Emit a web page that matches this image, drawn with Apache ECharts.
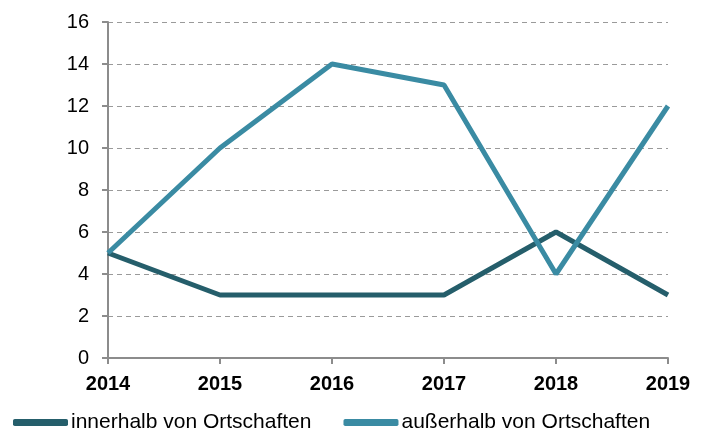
<!DOCTYPE html>
<html>
<head>
<meta charset="utf-8">
<script src="https://cdn.jsdelivr.net/npm/echarts@6/dist/echarts.min.js"></script>
<style>
  html, body { margin: 0; padding: 0; background: #fff; }
  #chart { width: 708px; height: 428px; }
</style>
</head>
<body>
<div id="chart"></div>
<script>
var years = ['2014', '2015', '2016', '2017', '2018', '2019'];
var innerhalb = [5, 3, 3, 3, 6, 3];
var ausserhalb = [5, 10, 14, 13, 4, 12];
var yTicks = { min: 0, max: 16, interval: 2 };

var myChart = echarts.init(document.getElementById('chart'));
var font = 'Liberation Sans, Arial, sans-serif';

myChart.setOption({
    animation: false,
    grid: { left: 108, right: 40, top: 22, bottom: 70 },
    xAxis: {
        type: 'category',
        data: years,
        boundaryGap: false,
        axisLine: { lineStyle: { color: '#8c8c8c', width: 2 } },
        axisTick: { show: true, length: 6, lineStyle: { color: '#8c8c8c', width: 2 } },
        axisLabel: { color: '#000', fontFamily: font, fontSize: 20, fontWeight: 'bold', margin: 16 },
        splitLine: { show: false }
    },
    yAxis: {
        type: 'value',
        min: yTicks.min,
        max: yTicks.max,
        interval: yTicks.interval,
        axisLine: { show: true, lineStyle: { color: '#8c8c8c', width: 2 } },
        axisTick: { show: true, length: 6, lineStyle: { color: '#8c8c8c', width: 2 } },
        axisLabel: { color: '#000', fontFamily: font, fontSize: 20, margin: 19 },
        splitLine: { lineStyle: { color: '#9a9a9a', type: [5, 4], width: 1 } }
    },
    legend: {
        top: 407,
        left: 8,
        itemWidth: 55,
        itemHeight: 7,
        itemGap: 32,
        icon: 'roundRect',
        textStyle: { color: '#000', fontFamily: font, fontSize: 21, padding: [0, 0, 0, -2] },
        data: ['innerhalb von Ortschaften', 'außerhalb von Ortschaften']
    },
    series: [
        {
            name: 'innerhalb von Ortschaften',
            type: 'line',
            data: innerhalb,
            symbol: 'none',
            lineStyle: { color: '#255e6b', width: 5 },
            itemStyle: { color: '#255e6b' }
        },
        {
            name: 'außerhalb von Ortschaften',
            type: 'line',
            data: ausserhalb,
            symbol: 'none',
            lineStyle: { color: '#3a8ba3', width: 5 },
            itemStyle: { color: '#3a8ba3' }
        }
    ]
});
</script>
</body>
</html>
